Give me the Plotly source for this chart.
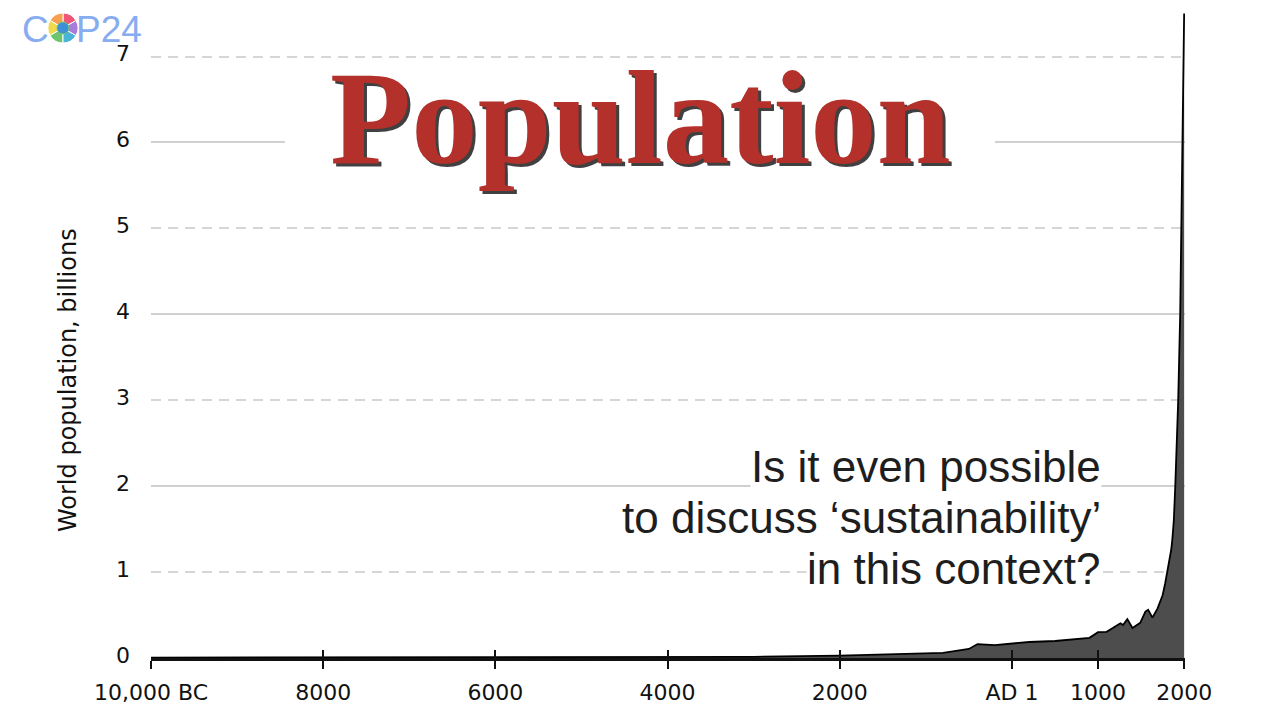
import plotly.graph_objects as go

# ---------------- data ----------------
years = [-10000, -8000, -6000, -5000, -4000, -3000, -2000, -1000, -800, -500,
         -400, -200, 1, 200, 500, 900, 1000, 1100, 1260, 1290,
         1340, 1400, 1490, 1550, 1582, 1632, 1690, 1750, 1780, 1812,
         1850, 1862, 1880, 1897, 1931, 1954, 1966, 1977, 1989, 2000]
population_bn = [0.004, 0.005, 0.005, 0.005, 0.007, 0.014, 0.027, 0.05, 0.06, 0.105,
                 0.162, 0.15, 0.172, 0.186, 0.198, 0.235, 0.30, 0.305, 0.405, 0.385,
                 0.452, 0.35, 0.41, 0.54, 0.56, 0.47, 0.575, 0.73, 0.87, 1.04,
                 1.26, 1.37, 1.6, 2.0, 3.0, 4.0, 5.0, 6.0, 7.0, 7.5]

x_tick_vals = [-10000, -8000, -6000, -4000, -2000, 1, 1000, 2000]
x_tick_text = ["10,000 BC", "8000", "6000", "4000", "2000", "AD 1", "1000", "2000"]
y_tick_vals = [0, 1, 2, 3, 4, 5, 6, 7]
y_solid_grid = [2, 4, 6]
y_dashed_grid = [1, 3, 5, 7]

title_text = "Population"
question_lines = ["Is it even possible",
                  "to discuss \u2018sustainability\u2019",
                  "in this context?"]
y_title = "World population, billions"

logo_petals = [1, 1, 1, 1, 1, 1]
logo_colors = ["#f0567a", "#f7a04f", "#f2d84b", "#6cc46c", "#49b3d8", "#a67ddb"]

# ---------------- geometry ----------------
W, H = 1280, 713
OFF = 8  # page body margin
X_RANGE = [-10000, 2010]
Y_RANGE = [0, 7.565]

def px(xp):
    return (xp - OFF) / W

def py(yp):
    return 1 - (yp - OFF) / H

x_dom = [px(151), px(1185)]
y_dom = [py(658), 1.0]

fig = go.Figure()

fig.add_trace(go.Scatter(
    x=years, y=population_bn, mode="lines",
    fill="tozeroy", fillcolor="#4d4d4d",
    line=dict(color="#000000", width=1.8),
    hoverinfo="skip", showlegend=False,
))
# empty traces to anchor the overlay axes
fig.add_trace(go.Scatter(x=[], y=[], yaxis="y2", showlegend=False))
fig.add_trace(go.Scatter(x=[], y=[], yaxis="y3", showlegend=False))
fig.add_trace(go.Scatter(x=[], y=[], xaxis="x2", showlegend=False))

# logo flower
fig.add_trace(go.Pie(
    values=logo_petals, marker=dict(colors=logo_colors, line=dict(color="white", width=1)),
    hole=0.38, textinfo="none", hoverinfo="skip", showlegend=False, sort=False,
    domain=dict(x=[px(48), px(78)], y=[py(44), py(12)]),
))

tick_font = dict(family="DejaVu Sans", size=22, color="#111111")

fig.update_layout(
    width=W, height=H,
    margin=dict(l=0, r=0, t=0, b=0, autoexpand=False),
    paper_bgcolor="white", plot_bgcolor="white",
    showlegend=False,
    xaxis=dict(
        domain=x_dom, range=X_RANGE, anchor="y",
        tickvals=x_tick_vals, ticktext=x_tick_text, tickfont=tick_font,
        ticks="outside", ticklen=8, tickwidth=2, tickcolor="#111111",
        showline=True, linecolor="#111111", linewidth=2.5,
        showgrid=False, zeroline=False, automargin=False,
        ticklabelstandoff=5,
    ),
    xaxis2=dict(
        overlaying="x", anchor="y", side="bottom", range=X_RANGE,
        tickvals=x_tick_vals, ticks="inside", ticklen=8, tickwidth=2,
        tickcolor="#111111", showticklabels=False, showgrid=False,
        zeroline=False, showline=False, automargin=False,
    ),
    yaxis=dict(
        domain=y_dom, range=Y_RANGE, anchor="x",
        tickvals=y_tick_vals, tickfont=tick_font, ticks="",
        showgrid=False, zeroline=False, showline=False, automargin=False,
        ticklabelstandoff=20, ticklabelshift=-3,
    ),
    yaxis2=dict(
        overlaying="y", anchor="x", range=Y_RANGE, tickvals=y_solid_grid,
        showticklabels=False, showgrid=True, gridcolor="#d0d0d0", gridwidth=2,
        zeroline=False, showline=False, automargin=False,
    ),
    yaxis3=dict(
        overlaying="y", anchor="x", range=Y_RANGE, tickvals=y_dashed_grid,
        showticklabels=False, showgrid=True, gridcolor="#d6d6d6", gridwidth=2,
        griddash="10px,7px", zeroline=False, showline=False, automargin=False,
    ),
)

# white backing behind the big title (interrupts the 6-billion gridline)
fig.add_shape(type="rect", xref="x", yref="y",
              x0=-8444, x1=-197, y0=5.5, y1=6.5,
              fillcolor="white", line=dict(width=0), layer="between")

# big title with shadow
fig.add_annotation(text=title_text, xref="paper", yref="paper",
                   x=px(643), y=py(121), xanchor="center", yanchor="middle",
                   showarrow=False,
                   font=dict(family="Liberation Serif", size=133, color="rgba(30,30,30,0.85)", weight="bold"))
fig.add_annotation(text=title_text, xref="paper", yref="paper",
                   x=px(640), y=py(118), xanchor="center", yanchor="middle",
                   showarrow=False,
                   font=dict(family="Liberation Serif", size=133, color="#b3302b", weight="bold"))

# question text, one line per annotation with white background
for line, cy in zip(question_lines, [466, 517, 568]):
    fig.add_annotation(text=line, xref="paper", yref="paper",
                       x=px(1102), y=py(cy), xanchor="right", yanchor="middle",
                       showarrow=False, bgcolor="white", borderpad=0,
                       font=dict(family="Liberation Sans", size=44, color="#1e1e1e"))

# y-axis title
fig.add_annotation(text=y_title, xref="paper", yref="paper",
                   x=px(68), y=py(380), xanchor="center", yanchor="middle",
                   textangle=-90, showarrow=False,
                   font=dict(family="DejaVu Sans", size=24, color="#111111"))

# COP24 logo text
fig.add_annotation(text="C", xref="paper", yref="paper",
                   x=px(20), y=py(29), xanchor="left", yanchor="middle",
                   showarrow=False,
                   font=dict(family="Liberation Sans", size=37, color="#88acf0"))
fig.add_annotation(text="P24", xref="paper", yref="paper",
                   x=px(74), y=py(29), xanchor="left", yanchor="middle",
                   showarrow=False,
                   font=dict(family="Liberation Sans", size=37, color="#88acf0"))
# globe at the flower centre
fig.add_shape(type="circle", xref="paper", yref="paper",
              x0=px(57), x1=px(69), y0=py(34), y1=py(22),
              fillcolor="#3f8fd8", line=dict(color="#6cc46c", width=1), layer="above")

fig.write_html("out.html")
